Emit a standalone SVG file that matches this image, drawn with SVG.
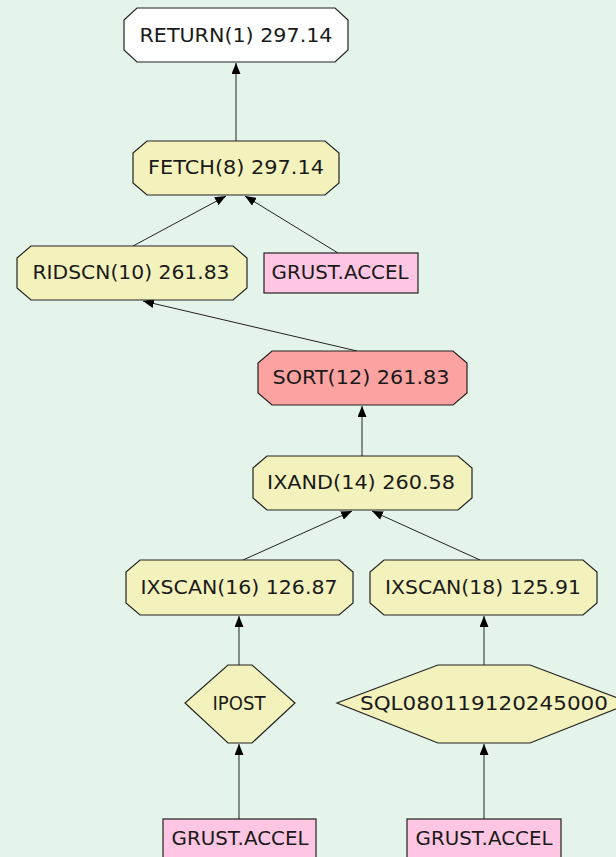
<svg xmlns="http://www.w3.org/2000/svg" width="616" height="857" viewBox="0 0 616 857">
<defs>
<style>
.n{stroke:#222;stroke-width:1.2}
.y{fill:#f4f2bc}
.w{fill:#ffffff}
.p{fill:#fec6e2}
.r{fill:#fca3a2}
.t{font-family:"DejaVu Sans",sans-serif;font-size:19px;fill:#1a1a1a;text-anchor:middle}
.e{stroke:#222;stroke-width:1;fill:none}
</style>
<marker id="ah" viewBox="0 0 11 9" refX="11" refY="4.5" markerWidth="11" markerHeight="9" markerUnits="userSpaceOnUse" orient="auto">
<path d="M0,0 L11,4.5 L0,9 Z" fill="#000"/>
</marker>
</defs>
<rect width="616" height="857" fill="#e4f4ea"/>
<g id="edges">
<line class="e" x1="236" y1="141" x2="236" y2="63" marker-end="url(#ah)"/>
<line class="e" x1="133" y1="246" x2="226" y2="196" marker-end="url(#ah)"/>
<line class="e" x1="338" y1="253" x2="245" y2="196" marker-end="url(#ah)"/>
<line class="e" x1="357" y1="351" x2="143" y2="301" marker-end="url(#ah)"/>
<line class="e" x1="362" y1="456" x2="362" y2="406" marker-end="url(#ah)"/>
<line class="e" x1="243" y1="560" x2="352" y2="511" marker-end="url(#ah)"/>
<line class="e" x1="480" y1="560" x2="372" y2="511" marker-end="url(#ah)"/>
<line class="e" x1="239" y1="665" x2="239" y2="616" marker-end="url(#ah)"/>
<line class="e" x1="484" y1="665" x2="484" y2="616" marker-end="url(#ah)"/>
<line class="e" x1="239" y1="819" x2="239" y2="744" marker-end="url(#ah)"/>
<line class="e" x1="484" y1="819" x2="484" y2="744" marker-end="url(#ah)"/>
</g>
<g id="return1">
<polygon class="n w" points="137,8 335,8 348,20 348,50 335,62 137,62 124,50 124,20"/>
<text class="t" x="236" y="42" textLength="193" lengthAdjust="spacingAndGlyphs">RETURN(1) 297.14</text>
</g>
<g id="fetch8">
<polygon class="n y" points="147,141 325,141 339,153 339,183 325,195 147,195 133,183 133,153"/>
<text class="t" x="236" y="174" textLength="176" lengthAdjust="spacingAndGlyphs">FETCH(8) 297.14</text>
</g>
<g id="ridscn10">
<polygon class="n y" points="31,246 233,246 247,258 247,288 233,300 31,300 17,288 17,258"/>
<text class="t" x="131" y="279" textLength="197" lengthAdjust="spacingAndGlyphs">RIDSCN(10) 261.83</text>
</g>
<g id="grust1">
<rect class="n p" x="264" y="253" width="154" height="40"/>
<text class="t" x="340" y="279" textLength="137" lengthAdjust="spacingAndGlyphs">GRUST.ACCEL</text>
</g>
<g id="sort12">
<polygon class="n r" points="272,351 453,351 467,363 467,393 453,405 272,405 258,393 258,363"/>
<text class="t" x="361" y="384" textLength="177" lengthAdjust="spacingAndGlyphs">SORT(12) 261.83</text>
</g>
<g id="ixand14">
<polygon class="n y" points="267,456 458,456 472,468 472,498 458,510 267,510 253,498 253,468"/>
<text class="t" x="361" y="489" textLength="188" lengthAdjust="spacingAndGlyphs">IXAND(14) 260.58</text>
</g>
<g id="ixscan16">
<polygon class="n y" points="140,560 339,560 353,572 353,603 339,615 140,615 126,603 126,572"/>
<text class="t" x="239" y="594" textLength="197" lengthAdjust="spacingAndGlyphs">IXSCAN(16) 126.87</text>
</g>
<g id="ixscan18">
<polygon class="n y" points="384,560 583,560 597,572 597,603 583,615 384,615 370,603 370,572"/>
<text class="t" x="483" y="594" textLength="196" lengthAdjust="spacingAndGlyphs">IXSCAN(18) 125.91</text>
</g>
<g id="ipost">
<polygon class="n y" points="228,665 252,665 295,703 252,743 228,743 185,703"/>
<text class="t" x="239" y="710" textLength="53" lengthAdjust="spacingAndGlyphs">IPOST</text>
</g>
<g id="sqlidx">
<polygon class="n y" points="438,665 530,665 631,703 530,743 438,743 337,703"/>
<text class="t" x="484" y="710" textLength="248" lengthAdjust="spacingAndGlyphs">SQL080119120245000</text>
</g>
<g id="grust2">
<rect class="n p" x="163" y="819" width="153" height="45"/>
<text class="t" x="240" y="845" textLength="137" lengthAdjust="spacingAndGlyphs">GRUST.ACCEL</text>
</g>
<g id="grust3">
<rect class="n p" x="407" y="819" width="154" height="45"/>
<text class="t" x="484" y="845" textLength="137" lengthAdjust="spacingAndGlyphs">GRUST.ACCEL</text>
</g>
</svg>
